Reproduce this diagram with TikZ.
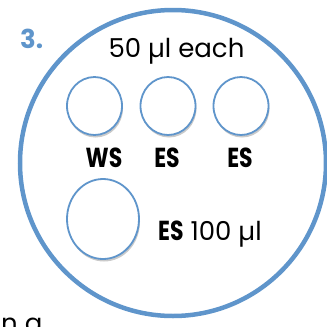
\documentclass[tikz,border=0pt]{standalone}
\usepackage{fontspec}
\setmainfont{Poppins}
\usetikzlibrary{shadows,shapes.geometric}
\definecolor{cblue}{HTML}{5F95CB}
\newcommand{\tallb}[1]{\scalebox{1}[1.25]{\bfseries #1}}
\tikzset{
  well/.style={ellipse, draw=cblue, line width=1.8pt, fill=white, inner sep=0pt,
    drop shadow={shadow xshift=1pt, shadow yshift=-2.5pt, opacity=0.35, fill=black!60}},
  lab/.style={font=\fontsize{22}{24}\selectfont, inner sep=0pt, anchor=base},
  txt/.style={font=\fontsize{26}{28}\selectfont, inner sep=0pt, anchor=base}
}
\begin{document}
\begin{tikzpicture}[x=1pt,y=1pt]
\useasboundingbox (0,0) rectangle (327,-327);
\clip (0,0) rectangle (327,-327);
\node[draw=cblue, line width=4.5pt, circle, minimum size=306pt, inner sep=0pt] (plate) at (173,-163) {};
\node[txt, text=cblue, font=\fontsize{26}{28}\selectfont\bfseries, anchor=base west] (num) at (20,-48) {3.};
\node[txt] (t50) at (176.5,-57) {50 µl each};
\node[well, minimum width=55pt, minimum height=58pt] (w1) at (94.5,-106) {};
\node[well, minimum width=55pt, minimum height=58pt] (w2) at (168,-106) {};
\node[well, minimum width=55pt, minimum height=58pt] (w3) at (241,-106) {};
\node[well, minimum width=72pt, minimum height=80pt] (w4) at (103,-219) {};
\node[lab] (l1) at (104,-167) {\tallb{WS}};
\node[lab] (l2) at (167,-167) {\tallb{ES}};
\node[lab] (l3) at (240,-167) {\tallb{ES}};
\node[txt, anchor=base west] (l4) at (158,-240) {{\fontsize{22}{24}\selectfont\tallb{ES}} 100 µl};
\node[txt, anchor=base west] (na) at (1,-332) {n a};
\end{tikzpicture}
\end{document}
